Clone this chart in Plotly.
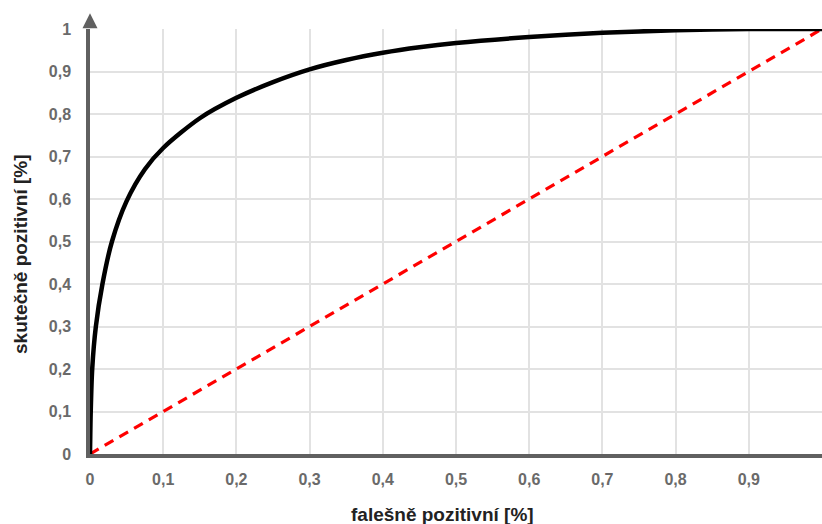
import plotly.graph_objects as go

# ROC curve values
fpr = [0, 0.001, 0.003, 0.008, 0.017, 0.03, 0.05, 0.075, 0.1, 0.15, 0.2, 0.25,
       0.3, 0.35, 0.4, 0.45, 0.5, 0.6, 0.7, 0.8, 0.9, 1.0]
tpr = [0, 0.1, 0.2, 0.3, 0.4, 0.5, 0.595, 0.67, 0.72, 0.79, 0.838, 0.875,
       0.905, 0.927, 0.944, 0.957, 0.967, 0.981, 0.991, 0.997, 1.0, 1.0]
diag_x = [0, 1]
diag_y = [0, 1]

x_ticks = [0, 0.1, 0.2, 0.3, 0.4, 0.5, 0.6, 0.7, 0.8, 0.9]
x_labels = ["0", "0,1", "0,2", "0,3", "0,4", "0,5", "0,6", "0,7", "0,8", "0,9"]
y_ticks = [0, 0.1, 0.2, 0.3, 0.4, 0.5, 0.6, 0.7, 0.8, 0.9, 1.0]
y_labels = ["0", "0,1", "0,2", "0,3", "0,4", "0,5", "0,6", "0,7", "0,8", "0,9", "1"]

x_title = "falešně pozitivní [%]"
y_title = "skutečně pozitivní [%]"

FONT = "Liberation Sans"
TICKFONT = dict(family=FONT, size=16, color="#6a6a6a", weight="bold")
TITLEFONT = dict(family=FONT, size=19, color="#222222", weight="bold")

fig = go.Figure()
fig.add_trace(go.Scatter(x=diag_x, y=diag_y, mode="lines",
                         line=dict(color="#ff0000", width=3.2, dash="10px,7px"),
                         hoverinfo="skip", cliponaxis=False))
fig.add_trace(go.Scatter(x=fpr, y=tpr, mode="lines",
                         line=dict(color="#000000", width=4.5, shape="spline", smoothing=0.8),
                         hoverinfo="skip", cliponaxis=False))

fig.update_layout(
    width=822, height=524,
    margin=dict(l=90, r=0, t=29, b=70, autoexpand=False),
    paper_bgcolor="white", plot_bgcolor="white",
    showlegend=False,
    font=dict(family=FONT),
    xaxis=dict(range=[0, 1], tickvals=x_ticks, ticktext=x_labels,
               showgrid=True, gridcolor="#e2e2e2", gridwidth=2,
               showline=True, linecolor="#606060", linewidth=3.5,
               zeroline=False, ticks="", ticklen=0, automargin=False,
               ticklabelstandoff=8, tickfont=TICKFONT),
    yaxis=dict(range=[0, 1], tickvals=y_ticks, ticktext=y_labels,
               showgrid=True, gridcolor="#e2e2e2", gridwidth=2,
               showline=True, linecolor="#606060", linewidth=3.5,
               zeroline=False, ticks="", ticklen=0, automargin=False,
               ticklabelstandoff=12, tickfont=TICKFONT),
)

# axis titles
fig.add_annotation(text=x_title, xref="paper", x=(442 - 90) / 732, yref="paper",
                   y=0, yshift=-60, xanchor="center", yanchor="middle",
                   showarrow=False, font=TITLEFONT)
fig.add_annotation(text=y_title, xref="paper", x=0, xshift=-70, yref="paper",
                   y=(454 - 254) / 425, textangle=-90, xanchor="center", yanchor="middle",
                   showarrow=False, font=TITLEFONT)

# axis arrows
fig.add_annotation(x=0, xref="x", y=1.037, yref="paper", ax=0, ay=16,
                   showarrow=True, arrowhead=2, arrowsize=1, arrowwidth=3,
                   arrowcolor="#606060", text="")
fig.add_annotation(x=1.0, xref="paper", y=0, yref="y", ax=-6, ay=0,
                   showarrow=True, arrowhead=2, arrowsize=1, arrowwidth=3,
                   arrowcolor="#606060", text="")

fig.write_html("out.html",
               config={"displayModeBar": False},
               post_script="document.body.style.margin='0';document.body.style.padding='0';")
